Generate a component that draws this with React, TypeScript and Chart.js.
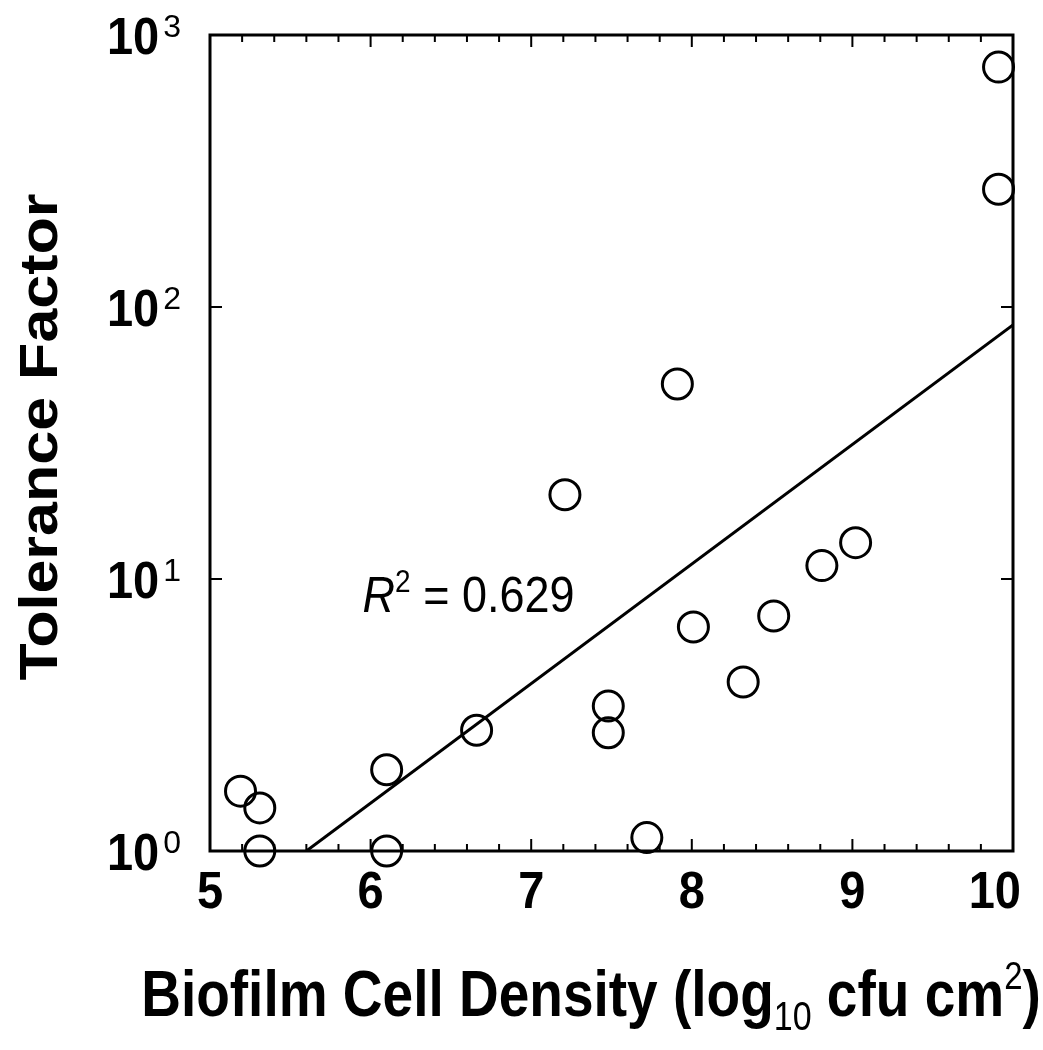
import { useEffect, useRef } from "react";
import { Chart, registerables } from "chart.js";

Chart.register(...registerables);

// ---- data ----
const cellDensity = [5.19, 5.31, 5.31, 6.1, 6.1, 6.66, 7.21, 7.48, 7.48, 7.72, 7.91, 8.01, 8.32, 8.51, 8.81, 9.02, 9.91, 9.91];
const toleranceFactor = [1.66, 1.44, 1.0, 1.99, 1.0, 2.78, 20.4, 3.41, 2.72, 1.12, 52.1, 6.66, 4.18, 7.31, 11.2, 13.6, 762, 271];
const fitX = [5.6, 10];
const fitY = [1, 85.9];
const xTickValues = [5, 6, 7, 8, 9, 10];
const xTickLabels = ["5", "6", "7", "8", "9", "10"];
const yTickValues = [1, 10, 100, 1000];
const yTickExponents = ["0", "1", "2", "3"];
const xMinorStep = 0.2;
const r2Value = "0.629";
const r2AnchorX = 5.95;
const r2AnchorY = 8.8;

const FONT = '"Liberation Sans", Arial, sans-serif';

function drawText(
  ctx: CanvasRenderingContext2D,
  text: string,
  x: number,
  y: number,
  font: string,
  align: CanvasTextAlign,
  baseline: CanvasTextBaseline,
  sy: number
) {
  ctx.save();
  ctx.font = font;
  ctx.textAlign = align;
  ctx.textBaseline = baseline;
  ctx.translate(x, y);
  ctx.scale(1, sy);
  ctx.fillText(text, 0, 0);
  ctx.restore();
}

const decorPlugin = {
  id: "decor",
  afterDraw(chart: any) {
    const ctx: CanvasRenderingContext2D = chart.ctx;
    const { left, top, right, bottom } = chart.chartArea;
    const xs = chart.scales.x;
    const ys = chart.scales.y;
    const W = chart.width;
    ctx.save();
    ctx.strokeStyle = "#000";
    ctx.fillStyle = "#000";
    // frame
    ctx.lineWidth = 3;
    ctx.strokeRect(left, top, right - left, bottom - top);
    // x ticks (inward, bottom and top)
    ctx.lineWidth = 2;
    const n = Math.round((xs.max - xs.min) / xMinorStep);
    for (let i = 0; i <= n; i++) {
      const v = xs.min + i * xMinorStep;
      const px = xs.getPixelForValue(v);
      const major = xTickValues.some((t) => Math.abs(t - v) < 1e-6);
      const len = major ? 12 : 7;
      ctx.beginPath();
      ctx.moveTo(px, bottom);
      ctx.lineTo(px, bottom - len);
      ctx.moveTo(px, top);
      ctx.lineTo(px, top + len);
      ctx.stroke();
    }
    // y ticks (inward, left and right)
    yTickValues.forEach((v) => {
      const py = ys.getPixelForValue(v);
      ctx.beginPath();
      ctx.moveTo(left, py);
      ctx.lineTo(left + 12, py);
      ctx.moveTo(right, py);
      ctx.lineTo(right - 12, py);
      ctx.stroke();
    });
    // x tick labels
    const tickFont = `bold 47px ${FONT}`;
    xTickValues.forEach((v, i) => {
      ctx.font = tickFont;
      const w = ctx.measureText(xTickLabels[i]).width;
      let px = xs.getPixelForValue(v);
      px = Math.min(px, W - 22 - w / 2);
      drawText(ctx, xTickLabels[i], px, bottom + 57, tickFont, "center", "alphabetic", 1.1);
    });
    // y tick labels 10^n
    yTickValues.forEach((v, i) => {
      const py = ys.getPixelForValue(v);
      const supFont = `32px ${FONT}`;
      const supRight = left - 29;
      drawText(ctx, yTickExponents[i], supRight, py + 2, supFont, "right", "alphabetic", 1.0);
      ctx.font = supFont;
      const w = ctx.measureText(yTickExponents[i]).width;
      drawText(ctx, "10", supRight - w - 4, py + 19, tickFont, "right", "alphabetic", 1.1);
    });
    // y title (stretched along its length)
    ctx.save();
    ctx.translate(42, 437);
    ctx.rotate(-Math.PI / 2);
    ctx.scale(1.13, 1);
    ctx.font = `bold 54px ${FONT}`;
    ctx.textAlign = "center";
    ctx.textBaseline = "middle";
    ctx.fillText("Tolerance Factor", 0, 0);
    ctx.restore();
    // x title with sub/superscript
    const segs = [
      { t: "Biofilm Cell Density (log", f: `bold 55px ${FONT}`, dy: 0 },
      { t: "10", f: `34px ${FONT}`, dy: 14 },
      { t: " cfu cm", f: `bold 55px ${FONT}`, dy: 0 },
      { t: "2", f: `33px ${FONT}`, dy: -27 },
      { t: ")", f: `bold 55px ${FONT}`, dy: 0 },
    ];
    let total = 0;
    segs.forEach((s) => {
      ctx.font = s.f;
      total += ctx.measureText(s.t).width;
    });
    let cx = 591 - total / 2;
    const baseY = 1016;
    segs.forEach((s) => {
      drawText(ctx, s.t, cx, baseY + s.dy, s.f, "left", "alphabetic", 1.17);
      ctx.font = s.f;
      cx += ctx.measureText(s.t).width;
    });
    // R^2 annotation
    let rx = xs.getPixelForValue(r2AnchorX);
    const ry = ys.getPixelForValue(r2AnchorY) + 18;
    const rFont = `italic 45px ${FONT}`;
    drawText(ctx, "R", rx, ry, rFont, "left", "alphabetic", 1.12);
    ctx.font = rFont;
    rx += ctx.measureText("R").width;
    const r2SupFont = `28px ${FONT}`;
    drawText(ctx, "2", rx, ry - 20, r2SupFont, "left", "alphabetic", 1.1);
    ctx.font = r2SupFont;
    rx += ctx.measureText("2").width;
    drawText(ctx, " = " + r2Value, rx, ry, `45px ${FONT}`, "left", "alphabetic", 1.12);
    ctx.restore();
  },
};

export default function App() {
  const ref = useRef<HTMLCanvasElement | null>(null);
  useEffect(() => {
    if (!ref.current) return;
    const chart = new Chart(ref.current, {
      type: "scatter",
      data: {
        datasets: [
          {
            type: "scatter",
            data: cellDensity.map((x, i) => ({ x, y: toleranceFactor[i] })),
            pointStyle: "circle",
            pointRadius: 15,
            pointHoverRadius: 15,
            borderWidth: 3,
            borderColor: "#000",
            backgroundColor: "rgba(0,0,0,0)",
            clip: false,
          } as any,
          {
            type: "line",
            data: fitX.map((x, i) => ({ x, y: fitY[i] })),
            borderColor: "#000",
            borderWidth: 3,
            pointRadius: 0,
            fill: false,
            showLine: true,
          } as any,
        ],
      },
      options: {
        animation: false,
        responsive: false,
        events: [],
        layout: { padding: { left: 210, top: 35, right: 30, bottom: 199 } },
        plugins: { legend: { display: false }, tooltip: { enabled: false } },
        scales: {
          x: { type: "linear", min: 5, max: 10, display: false },
          y: { type: "logarithmic", min: 1, max: 1000, display: false },
        },
      },
      plugins: [decorPlugin],
    });
    return () => chart.destroy();
  }, []);
  return (
    <div style={{ position: "absolute", left: 0, top: 0, width: 1043, height: 1050, background: "#fff" }}>
      <canvas ref={ref} width={1043} height={1050} />
    </div>
  );
}
